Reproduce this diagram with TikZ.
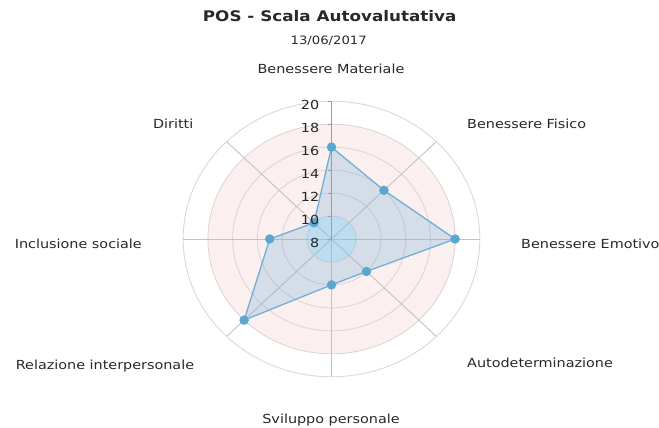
\documentclass[tikz,border=0pt]{standalone}
\usepackage{fontspec}
\setmainfont{DejaVu Sans}[FakeStretch=1.15]
\definecolor{txtgray}{RGB}{40,40,40}
\definecolor{ringgray}{RGB}{222,213,214}
\definecolor{spokegray}{RGB}{195,195,195}
\definecolor{bandpink}{RGB}{251,239,240}
\definecolor{bandblue}{RGB}{218,239,250}
\definecolor{serieblue}{RGB}{112,176,214}
\definecolor{markblue}{RGB}{92,166,208}
\tikzset{
  catlabel/.style={font=\fontsize{12.5}{14}\selectfont, text=txtgray, inner sep=0pt},
  ticklabel/.style={font=\fontsize{12.5}{14}\selectfont, text=txtgray, inner sep=0pt, anchor=east},
  ring/.style={draw=ringgray, line width=0.9pt},
  spoke/.style={draw=spokegray, line width=0.9pt},
  datapt/.style={circle, fill=markblue, inner sep=0pt, minimum size=9.5pt},
}
\begin{document}
\begin{tikzpicture}[x=1pt,y=-1pt]
    \useasboundingbox (0,0) rectangle (659,428);
    % title
    \node [font=\bfseries\fontsize{14.6}{17}\selectfont, text=txtgray, anchor=base] (title) at (329.7,21.7) {POS - Scala Autovalutativa};
    \node [font=\fontsize{11.5}{13}\selectfont, text=txtgray, anchor=base] (date) at (328.7,45) {13/06/2017};
    % radar
    \begin{scope}[shift={(331.5,239)}]
    \begin{scope}[x=12.36pt,y=11.48pt]
        \coordinate (c) at (0,0);
        \fill [bandpink] (c) ellipse [x radius=10, y radius=10];
        \fill [bandblue] (c) ellipse [x radius=2, y radius=2];
        \foreach \r in {2,4,...,12}
            \draw [ring] (c) ellipse [x radius=\r, y radius=\r];
        \foreach \a in {0,45,...,315}
            \draw [spoke] (c) -- (\a:12);
        \draw [spokegray!80!black, line width=0.9pt] (c) -- (0,12);
        \foreach \r in {0,2,...,12}
            \draw [spokegray!80!black, line width=0.9pt] (0,\r) -- ++(-4pt,0);
        % values
        \coordinate (p-mat) at (90:8);
        \coordinate (p-fis) at (45:6);
        \coordinate (p-emo) at (0:10);
        \coordinate (p-aut) at (-45:4);
        \coordinate (p-svi) at (-90:4);
        \coordinate (p-rel) at (-135:10);
        \coordinate (p-inc) at (180:5);
        \coordinate (p-dir) at (135:2);
        \filldraw [draw=serieblue, line width=1.3pt, fill=serieblue, fill opacity=.28, line join=round]
            (p-mat) -- (p-fis) -- (p-emo) -- (p-aut) -- (p-svi) -- (p-rel) -- (p-inc) -- (p-dir) -- cycle;
        \foreach \p in {mat,fis,emo,aut,svi,rel,inc,dir}
            \node [datapt] (m-\p) at (p-\p) {};
        \foreach \v in {8,10,...,20}
            \node [ticklabel, yshift=-3.8pt] (t-\v) at (-0.98,\v-8) {\v};
    \end{scope}
    \end{scope}
    % categories
    \node [catlabel, anchor=base] (l-mat) at (331,73.3) {Benessere Materiale};
    \node [catlabel, anchor=base west] (l-fis) at (467,128.5) {Benessere Fisico};
    \node [catlabel, anchor=base west] (l-emo) at (521,248.5) {Benessere Emotivo};
    \node [catlabel, anchor=base west] (l-aut) at (467,367) {Autodeterminazione};
    \node [catlabel, anchor=base] (l-svi) at (331,423) {Sviluppo personale};
    \node [catlabel, anchor=base east] (l-rel) at (194.3,369) {Relazione interpersonale};
    \node [catlabel, anchor=base east] (l-inc) at (142,248) {Inclusione sociale};
    \node [catlabel, anchor=base east] (l-dir) at (193.5,128.5) {Diritti};
\end{tikzpicture}
\end{document}
